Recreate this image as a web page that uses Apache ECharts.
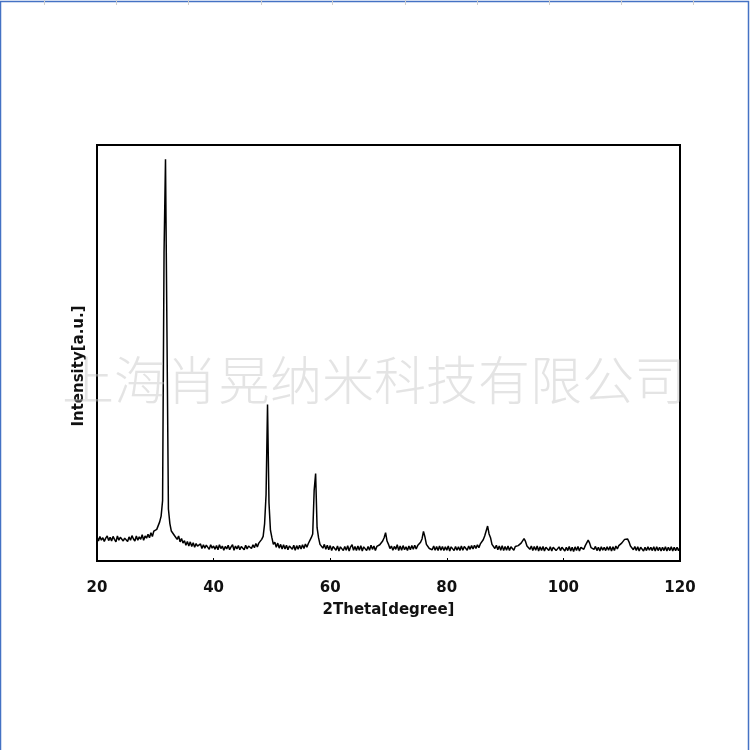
<!DOCTYPE html>
<html>
<head>
<meta charset="utf-8">
<script src="https://cdn.jsdelivr.net/npm/echarts@6/dist/echarts.min.js"></script>
<style>
html,body{margin:0;padding:0;background:#fff;}
#chart{width:750px;height:750px;}
</style>
</head>
<body>
<div id="chart"></div>
<script>
// 2Theta scan: start and step of the diffractometer scan (degrees)
const scanStart = 20;
const scanStep = 0.25;
// Intensity [a.u.], one value per scan step (20.00 ... 120.00)
const intensity = [
  5.8,4.8,5.9,5.0,5.6,4.7,5.5,6.0,4.9,5.7, 4.8,5.9,5.2,4.6,6.0,5.0,5.7,6.1,4.8,5.5,
  5.9,4.7,5.8,5.0,6.1,5.3,4.8,6.0,5.0,5.8, 5.2,6.3,5.0,6.0,5.5,6.4,5.6,6.8,5.9,7.2,
  7.0,7.6,8.0,9.4,10.8,14.5,74,96.6,55,12.5, 9.0,7.2,7.0,6.2,6.6,5.2,6.0,4.6,5.4,4.3,
  4.9,3.8,4.7,3.6,4.6,3.5,4.4,3.3,4.2,3.6, 3.2,4.1,3.0,3.9,3.1,3.8,3.6,2.8,3.9,3.1,
  3.6,2.8,3.7,2.7,3.9,3.0,3.6,2.6,3.5,2.9, 3.8,2.7,3.4,3.9,2.6,3.6,2.9,3.7,2.7,3.5,
  3.6,2.7,3.8,2.9,3.6,4.0,3.0,3.9,3.2,4.2, 3.4,4.3,4.0,5.2,5.9,9.0,16,37.6,14,7.4,
  5.6,4.0,4.5,3.3,4.3,3.1,4.0,2.9,3.9,2.9, 3.8,2.7,3.6,4.0,2.8,3.8,2.6,3.7,2.8,3.8,
  2.9,3.9,3.0,4.1,3.3,4.2,4.4,5.6,6.5,17, 21,8.0,5.6,4.0,4.2,3.1,4.0,2.8,3.8,2.7,
  3.7,2.5,3.5,3.7,2.6,3.6,2.4,3.4,3.8,2.5, 3.5,2.6,3.7,2.4,3.4,3.9,2.6,3.5,2.5,3.6,
  2.6,3.7,2.4,3.4,3.6,2.5,3.5,2.6,3.8,2.8, 3.6,2.5,3.5,3.3,3.9,3.8,4.8,5.6,6.8,4.8,
  4.0,3.0,3.6,2.6,3.5,2.8,3.9,2.5,3.6,2.6, 3.7,2.7,3.4,2.5,3.6,2.7,3.7,2.8,3.8,2.9,
  3.7,3.5,4.5,5.3,7.1,5.8,4.0,3.9,3.0,3.4, 2.7,3.6,2.6,3.5,2.5,3.6,2.6,3.5,2.5,3.4,
  2.6,3.6,2.4,3.4,3.7,2.5,3.5,2.6,3.4,2.5, 3.6,2.6,3.5,3.7,2.6,3.6,2.8,3.7,2.9,3.8,
  3.0,3.9,3.2,4.1,4.0,5.1,6.0,7.2,8.4,6.5, 5.6,4.0,4.1,3.0,3.8,2.7,3.6,2.6,3.7,2.5,
  3.5,2.6,3.6,2.5,3.4,3.6,2.6,3.5,3.2,3.7, 3.4,4.3,4.4,5.4,4.7,3.6,3.7,2.8,3.6,2.5,
  3.5,2.6,3.6,2.4,3.4,2.5,3.5,2.4,3.3,3.6, 2.5,3.4,2.4,3.3,3.5,2.5,2.4,3.4,2.5,3.3,
  3.4,2.4,3.3,2.5,3.5,2.4,3.3,2.3,3.4,2.5, 3.5,2.4,3.3,3.5,2.8,3.7,3.9,5.0,4.3,3.2,
  3.4,2.8,3.5,2.5,3.3,2.4,3.4,2.6,3.3,2.5, 3.4,2.6,3.5,2.4,3.4,2.5,3.6,2.9,3.7,3.5,
  4.3,4.4,5.2,5.6,5.3,4.6,3.6,3.5,2.7,3.5, 2.5,3.4,2.4,3.3,3.4,2.4,3.3,2.5,3.4,2.6,
  3.3,2.5,3.4,2.4,3.4,2.5,3.3,2.4,3.3,2.5, 3.4,2.4,3.3,2.5,3.4,2.4,3.3,2.5,3.3,2.5,
  3.2
];
const xTicks = [20, 40, 60, 80, 100, 120];
const xAxisName = '2Theta[degree]';
const yAxisName = 'Intensity[a.u.]';
const watermark = '上海肖晃纳米科技有限公司';

const seriesData = intensity.map((v, i) => [scanStart + i * scanStep, v]);

const chart = echarts.init(document.getElementById('chart'), null, {renderer: 'canvas'});

const rulerX = [44, 116, 188, 261, 332, 405, 477, 549, 621, 693];
const graphics = [
  {type: 'rect', shape: {x: 0.5, y: 1.5, width: 748, height: 760}, style: {fill: 'none', stroke: '#4472c4', lineWidth: 1.5}, silent: true, z: 0},
  {type: 'text', left: 62, top: 354, z: 100, silent: true,
   style: {text: watermark, fill: 'rgba(195,195,195,0.45)', font: '300 52px "Noto Sans CJK SC"'}}
];
rulerX.forEach(x => graphics.push({type: 'line', shape: {x1: x + 0.5, y1: 0, x2: x + 0.5, y2: 5}, style: {stroke: '#cfcfcf', lineWidth: 1}, silent: true}));

chart.setOption({
  animation: false,
  backgroundColor: '#fff',
  grid: {left: 97, right: 70, top: 145, bottom: 189, show: true, borderColor: '#000', borderWidth: 2, backgroundColor: 'transparent'},
  xAxis: {
    type: 'value', min: xTicks[0], max: xTicks[xTicks.length - 1], interval: 20,
    name: xAxisName, nameLocation: 'middle', nameGap: 42,
    nameTextStyle: {fontFamily: 'DejaVu Sans', fontWeight: 'bold', fontSize: 15, color: '#111'},
    axisLine: {lineStyle: {color: '#000', width: 2}},
    axisTick: {inside: true, length: 3, lineStyle: {color: '#000', width: 1}},
    axisLabel: {margin: 20, fontFamily: 'DejaVu Sans', fontWeight: 'bold', fontSize: 15, color: '#111'},
    splitLine: {show: false}
  },
  yAxis: {
    type: 'value', min: 0, max: 100,
    name: yAxisName, nameLocation: 'middle', nameGap: 10, nameRotate: 90,
    nameTextStyle: {fontFamily: 'DejaVu Sans', fontWeight: 'bold', fontSize: 15, color: '#111', padding: [0, 26, 0, 0]},
    axisLine: {show: false}, axisTick: {show: false}, axisLabel: {show: false}, splitLine: {show: false}
  },
  series: [{
    type: 'line', data: seriesData, showSymbol: false, symbol: 'none', smooth: false,
    lineStyle: {color: '#000', width: 1.5}, z: 3
  }],
  graphic: graphics
});
</script>
</body>
</html>
